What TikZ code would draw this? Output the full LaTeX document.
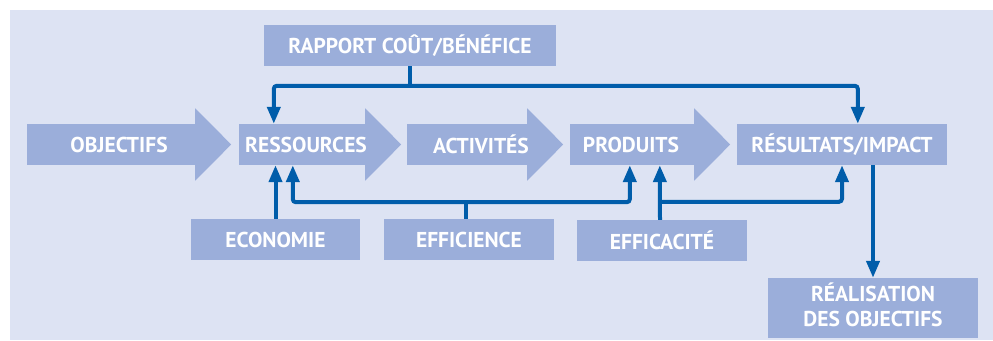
\documentclass[tikz,border=0pt]{standalone}
\usepackage{fontspec}
\setmainfont{PT Sans}
\usetikzlibrary{arrows.meta,calc}
\definecolor{bgc}{HTML}{DDE3F3}
\definecolor{boxc}{HTML}{9BAEDA}
\definecolor{linec}{HTML}{005DAA}
\begin{document}
\begin{tikzpicture}[x=1pt,y=-1pt,
  box/.style={fill=boxc, inner sep=0pt, minimum height=41pt, text=white,
    font=\bfseries\fontsize{21.5}{25}\selectfont, align=center},
  lbl/.style={inner sep=0pt, text=white, font=\bfseries\fontsize{21.5}{25}\selectfont, align=center},
  conn/.style={draw=linec, line width=4pt, rounded corners=3pt},
  tip/.style={-{Triangle[length=17pt,width=13pt]}},
  tips/.style={{Triangle[length=17pt,width=13pt]}-{Triangle[length=17pt,width=13pt]}}]
\useasboundingbox (0,0) rectangle (993,340);
\fill[bgc] (10,10) rectangle (993,340);
% arrow bodies
\node[box, minimum width=168pt] (obj) at (111,144.5) {};
\node[box, minimum width=126pt] (ress) at (302,144.5) {};
\node[box, minimum width=120pt] (act) at (467,144.5) {};
\node[box, minimum width=124pt] (prod) at (632,144.5) {};
\foreach \n in {obj,ress,act,prod}
  \fill[boxc] ([yshift=15.5pt]\n.north east) -- ([xshift=36pt]\n.east) -- ([yshift=-15.5pt]\n.south east) -- cycle;
\node[lbl] (objt) at ([xshift=8pt]obj.center) {OBJECTIFS};
\node[lbl] (resst) at ([xshift=4pt]ress.center) {RESSOURCES};
\node[lbl] (actt) at ([xshift=14pt]act.center) {ACTIVITÉS};
\node[lbl] (prodt) at ([xshift=-1pt]prod.center) {PRODUITS};
% other boxes
\node[box, minimum width=210pt] (res) at (842,144.5) {RÉSULTATS/IMPACT};
\node[box, minimum width=292pt] (rap) at (410,45.5) {RAPPORT COÛT/BÉNÉFICE};
\node[box, minimum width=169pt] (eco) at (275.5,239.5) {ECONOMIE};
\node[box, minimum width=170pt] (effi) at (469,239.5) {EFFICIENCE};
\node[box, minimum width=170pt] (effa) at (662,240.5) {EFFICACITÉ};
\node[box, minimum width=210pt, minimum height=60pt] (real) at (873,308) {};
\node[lbl] (realt) at ([yshift=3pt]real.center) {RÉALISATION\\DES OBJECTIFS};
% connectors
\draw[conn, tips] ([xshift=35pt]ress.north west) -- ++(0,-38) -| ([xshift=121pt]res.north west);
\draw[conn] (rap.south) -- ++(0,20);
\draw[conn, tip] (eco.north) -- (eco.north |- ress.south);
\draw[conn, tips] ([xshift=54pt]ress.south west) -- ++(0,37) -| ([xshift=60pt]prod.south west);
\draw[conn] ([xshift=-3pt]effi.north) -- ++(0,-17);
\draw[conn, tip] ([xshift=-2pt]effa.north) -- ([xshift=90pt]prod.south west);
\draw[conn, tip] ([xshift=-2pt,yshift=18pt]effa.north) -| (res.south);
\draw[conn, tip] (real.north |- res.south) -- (real.north);
\end{tikzpicture}
\end{document}
